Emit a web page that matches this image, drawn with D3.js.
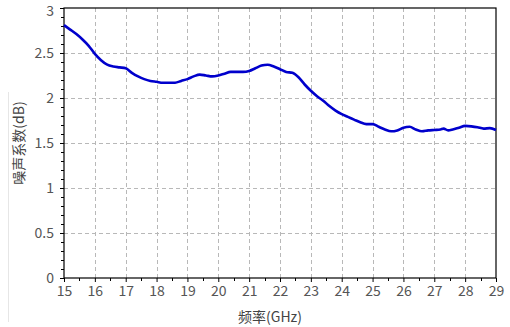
<!DOCTYPE html>
<html>
<head>
<meta charset="utf-8">
<script src="https://cdn.jsdelivr.net/npm/d3@7"></script>
<style>
  html, body { margin: 0; padding: 0; background: #fff; }
  svg { display: block; }
  text { font-family: "Noto Sans CJK SC", "Noto Sans", sans-serif; }
</style>
</head>
<body>
<svg id="chart" width="510" height="327"></svg>
<script>
// Noise figure vs. frequency
const freqGHz = [15.0, 15.2, 15.4, 15.6, 15.8, 16.0, 16.2, 16.4, 16.6, 16.8,
  17.0, 17.2, 17.4, 17.6, 17.8, 18.0, 18.2, 18.4, 18.6, 18.8,
  19.0, 19.2, 19.4, 19.6, 19.8, 20.0, 20.2, 20.4, 20.6, 20.8,
  21.0, 21.2, 21.4, 21.6, 21.8, 22.0, 22.2, 22.4, 22.6, 22.8,
  23.0, 23.2, 23.4, 23.6, 23.8, 24.0, 24.2, 24.4, 24.6, 24.8,
  25.0, 25.2, 25.4, 25.6, 25.8, 26.0, 26.2, 26.4, 26.6, 26.8,
  27.0, 27.2, 27.3, 27.45, 27.6, 27.8, 28.0, 28.2, 28.4, 28.6, 28.8, 29.0];
const noiseFigureDb = [2.81, 2.76, 2.71, 2.65, 2.58, 2.49, 2.42, 2.37, 2.35, 2.34,
  2.33, 2.28, 2.24, 2.21, 2.19, 2.18, 2.17, 2.17, 2.17, 2.19,
  2.21, 2.24, 2.26, 2.25, 2.24, 2.25, 2.27, 2.29, 2.29, 2.29,
  2.30, 2.33, 2.36, 2.37, 2.35, 2.32, 2.29, 2.28, 2.23, 2.15,
  2.08, 2.02, 1.97, 1.91, 1.86, 1.82, 1.79, 1.76, 1.73, 1.71,
  1.71, 1.68, 1.65, 1.63, 1.64, 1.67, 1.68, 1.65, 1.63, 1.64,
  1.645, 1.65, 1.66, 1.64, 1.65, 1.67, 1.69, 1.685, 1.675, 1.66, 1.665, 1.645];
const xTicks = [15, 16, 17, 18, 19, 20, 21, 22, 23, 24, 25, 26, 27, 28, 29];
const yTicks = [0, 0.5, 1, 1.5, 2, 2.5, 3];
const xLabel = "频率(GHz)";
const yLabel = "噪声系数(dB)";

const svg = d3.select("#chart");
const margin = { left: 64, right: 14, top: 8, bottom: 49 };
const W = 510, H = 327;
const x = d3.scaleLinear().domain([15, 29]).range([margin.left, W - margin.right]);
const y = d3.scaleLinear().domain([0, 3]).range([H - margin.bottom, margin.top]);

// faint figure edge on the left
svg.append("line")
  .attr("x1", 8.5).attr("x2", 8.5).attr("y1", 92).attr("y2", 322)
  .attr("stroke", "#e6e6e6").attr("stroke-width", 1);

// grid
const grid = svg.append("g").attr("stroke", "#b8b8b8").attr("stroke-width", 1)
  .attr("stroke-dasharray", "4,3").attr("fill", "none");
xTicks.slice(1, -1).forEach(t => {
  grid.append("line").attr("x1", Math.round(x(t)) + 0.5).attr("x2", Math.round(x(t)) + 0.5)
    .attr("y1", y(3)).attr("y2", y(0));
});
yTicks.slice(1, -1).forEach(t => {
  grid.append("line").attr("y1", Math.round(y(t)) + 0.5).attr("y2", Math.round(y(t)) + 0.5)
    .attr("x1", x(15)).attr("x2", x(29));
});

// minor ticks
const minorX = d3.range(15.5, 29, 1);
const minorY = d3.range(0, 3.0001, 0.1).filter(v => Math.abs(v * 2 - Math.round(v * 2)) > 1e-6);
const ticksG = svg.append("g").attr("stroke", "#000").attr("stroke-width", 1);
minorX.forEach(t => {
  ticksG.append("line").attr("x1", Math.round(x(t)) + 0.5).attr("x2", Math.round(x(t)) + 0.5)
    .attr("y1", y(0)).attr("y2", y(0) + 3);
});
minorY.forEach(t => {
  ticksG.append("line").attr("y1", Math.round(y(t)) + 0.5).attr("y2", Math.round(y(t)) + 0.5)
    .attr("x1", x(15) - 3).attr("x2", x(15));
});

// axes
const xAxis = d3.axisBottom(x).tickValues(xTicks).tickSize(4).tickPadding(4).tickFormat(d3.format("d"));
const yAxis = d3.axisLeft(y).tickValues(yTicks).tickSize(4).tickPadding(6).tickFormat(d => String(d));

const gx = svg.append("g").attr("transform", `translate(0,${y(0)})`).call(xAxis);
const gy = svg.append("g").attr("transform", `translate(${x(15)},0)`).call(yAxis);
[gx, gy].forEach(g => {
  g.select(".domain").remove();
  g.selectAll(".tick line").attr("stroke", "#000");
  g.selectAll(".tick text").attr("fill", "#555").style("font-size", "14px");
});
// keep the topmost label inside the canvas
gy.selectAll(".tick text").filter(d => d === 3).attr("dy", "0.5em");

// frame
svg.append("rect")
  .attr("x", x(15)).attr("y", y(3))
  .attr("width", x(29) - x(15)).attr("height", y(0) - y(3))
  .attr("fill", "none").attr("stroke", "#000").attr("stroke-width", 1.2);

// data line
const pts = freqGHz.map((f, i) => [f, noiseFigureDb[i]]);
svg.append("path")
  .datum(pts)
  .attr("fill", "none")
  .attr("stroke", "#0000cc")
  .attr("stroke-width", 2.6)
  .attr("stroke-linejoin", "round")
  .attr("d", d3.line().x(d => x(d[0])).y(d => y(d[1])).curve(d3.curveMonotoneX));

// axis titles
svg.append("text")
  .attr("x", 270).attr("y", 322)
  .attr("text-anchor", "middle")
  .attr("fill", "#444").style("font-size", "14px")
  .text(xLabel);
svg.append("text")
  .attr("transform", `translate(24,${(y(0) + y(3)) / 2}) rotate(-90)`)
  .attr("text-anchor", "middle")
  .attr("fill", "#444").style("font-size", "14px")
  .text(yLabel);
</script>
</body>
</html>
